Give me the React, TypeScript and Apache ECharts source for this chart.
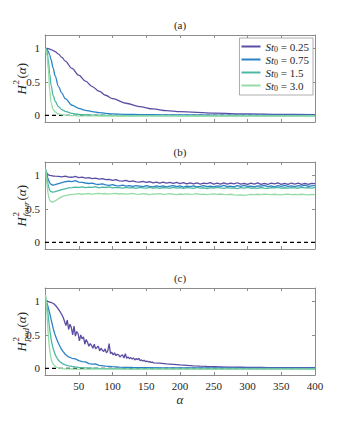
import React, { useEffect, useRef } from 'react';
import * as echarts from 'echarts';

const FONT = 'Liberation Serif';
const ST_VALUES = ['0.25', '0.75', '1.5', '3.0'];
const SERIES_NAMES = ST_VALUES.map((v) => `St0 = ${v}`);
const COLORS = ['#5a4ea3', '#2d82c6', '#4cb8a4', '#94dba6'];
const PANEL_TITLES = ['(a)', '(b)', '(c)'];
const Y_TICKS = [0, 0.5, 1];
const ZERO_LINE = [[0, 0], [400, 0]];

// ---- panel (a): H^2(alpha)
const ALPHA_A = [1, 3, 5, 7, 9, 12, 15, 20, 25, 30, 40, 50, 60, 70, 80, 90, 100, 120, 140, 160, 180, 200, 250, 300, 350, 400];
const A_025 = [1.0, 0.998, 0.995, 0.99, 0.982, 0.968, 0.952, 0.915, 0.865, 0.81, 0.7, 0.6, 0.51, 0.43, 0.36, 0.3, 0.25, 0.18, 0.13, 0.095, 0.07, 0.055, 0.032, 0.02, 0.014, 0.01];
const A_075 = [1.0, 0.985, 0.95, 0.9, 0.83, 0.71, 0.59, 0.43, 0.33, 0.25, 0.15, 0.105, 0.075, 0.055, 0.04, 0.03, 0.022, 0.014, 0.01, 0.008, 0.006, 0.005, 0.004, 0.003, 0.003, 0.002];
const A_15 = [1.0, 0.95, 0.82, 0.62, 0.45, 0.3, 0.21, 0.13, 0.085, 0.06, 0.03, 0.015, 0.008, 0.004, 0.002, 0.0, -0.002, -0.004, -0.005, -0.006, -0.006, -0.006, -0.007, -0.007, -0.007, -0.007];
const A_30 = [1.0, 0.9, 0.68, 0.37, 0.19, 0.09, 0.05, 0.02, 0.008, 0.002, -0.004, -0.007, -0.008, -0.009, -0.01, -0.01, -0.01, -0.01, -0.01, -0.01, -0.01, -0.01, -0.01, -0.01, -0.01, -0.01];

// ---- panel (b): H^2_four(alpha)
const ALPHA_B = [
  1, 2, 3, 4, 5, 6, 7, 8, 10, 12, 15,
  20, 25, 30, 35, 40, 45, 50, 55, 60, 65,
  70, 75, 80, 85, 90, 95, 100, 105, 110, 115,
  120, 125, 130, 135, 140, 145, 150, 155, 160, 165,
  170, 175, 180, 185, 190, 195, 200, 205, 210, 215,
  220, 225, 230, 235, 240, 245, 250, 255, 260, 265,
  270, 275, 280, 285, 290, 295, 300, 305, 310, 315,
  320, 325, 330, 335, 340, 345, 350, 355, 360, 365,
  370, 375, 380, 385, 390, 395, 400,
];
const B_025 = [
  1.06, 1.045, 1.03, 1.02, 1.01, 1.005, 1.0, 0.998, 0.995, 0.99, 0.988,
  0.986, 0.979, 0.988, 0.975, 0.972, 0.984, 0.968, 0.973, 0.959, 0.968,
  0.952, 0.958, 0.943, 0.953, 0.936, 0.941, 0.925, 0.936, 0.918, 0.914,
  0.924, 0.906, 0.917, 0.902, 0.898, 0.912, 0.895, 0.905, 0.889, 0.901,
  0.886, 0.898, 0.883, 0.895, 0.879, 0.894, 0.878, 0.892, 0.874, 0.889,
  0.873, 0.888, 0.871, 0.886, 0.876, 0.891, 0.87, 0.884, 0.869, 0.887,
  0.868, 0.884, 0.874, 0.89, 0.869, 0.882, 0.866, 0.885, 0.871, 0.889,
  0.867, 0.881, 0.864, 0.884, 0.872, 0.888, 0.867, 0.88, 0.865, 0.886,
  0.871, 0.883, 0.866, 0.879, 0.864, 0.882, 0.877,
];
const B_075 = [
  1.08, 1.04, 1.0, 0.965, 0.935, 0.91, 0.89, 0.875, 0.86, 0.855, 0.862,
  0.878, 0.893, 0.905, 0.915, 0.908, 0.922, 0.9, 0.894, 0.886, 0.879,
  0.885, 0.869, 0.864, 0.874, 0.857, 0.852, 0.862, 0.846, 0.842, 0.855,
  0.839, 0.848, 0.835, 0.846, 0.838, 0.83, 0.847, 0.834, 0.828, 0.842,
  0.832, 0.845, 0.829, 0.838, 0.847, 0.831, 0.842, 0.826, 0.84, 0.833,
  0.845, 0.829, 0.837, 0.848, 0.832, 0.84, 0.827, 0.843, 0.835, 0.849,
  0.833, 0.841, 0.828, 0.846, 0.836, 0.85, 0.834, 0.839, 0.827, 0.844,
  0.838, 0.851, 0.833, 0.842, 0.83, 0.846, 0.837, 0.852, 0.835, 0.843,
  0.831, 0.847, 0.838, 0.853, 0.836, 0.844, 0.848,
];
const B_15 = [
  1.09, 1.02, 0.955, 0.895, 0.845, 0.805, 0.78, 0.765, 0.752, 0.749, 0.756,
  0.772, 0.788, 0.8, 0.812, 0.818, 0.825, 0.821, 0.829, 0.818, 0.826,
  0.82, 0.832, 0.815, 0.824, 0.819, 0.828, 0.813, 0.822, 0.817, 0.809,
  0.821, 0.812, 0.818, 0.807, 0.822, 0.814, 0.809, 0.82, 0.811, 0.817,
  0.806, 0.819, 0.812, 0.808, 0.821, 0.81, 0.816, 0.805, 0.818, 0.813,
  0.807, 0.82, 0.811, 0.815, 0.804, 0.817, 0.809, 0.821, 0.812, 0.806,
  0.818, 0.81, 0.815, 0.803, 0.816, 0.811, 0.82, 0.808, 0.814, 0.806,
  0.819, 0.811, 0.807, 0.817, 0.812, 0.821, 0.809, 0.815, 0.81, 0.818,
  0.813, 0.808, 0.82, 0.812, 0.816, 0.81, 0.818,
];
const B_30 = [
  1.1, 0.98, 0.865, 0.77, 0.7, 0.66, 0.632, 0.616, 0.604, 0.602, 0.618,
  0.652, 0.683, 0.699, 0.708, 0.716, 0.72, 0.726, 0.718, 0.724, 0.729,
  0.721, 0.727, 0.732, 0.724, 0.729, 0.72, 0.726, 0.731, 0.722, 0.728,
  0.719, 0.725, 0.73, 0.721, 0.717, 0.726, 0.722, 0.714, 0.723, 0.719,
  0.726, 0.716, 0.721, 0.727, 0.718, 0.713, 0.722, 0.717, 0.724, 0.715,
  0.72, 0.726, 0.716, 0.721, 0.714, 0.719, 0.725, 0.717, 0.722, 0.715,
  0.712, 0.718, 0.709, 0.704, 0.71, 0.702, 0.708, 0.715, 0.711, 0.718,
  0.713, 0.72, 0.716, 0.711, 0.718, 0.714, 0.709, 0.716, 0.72, 0.713,
  0.717, 0.711, 0.718, 0.714, 0.709, 0.716, 0.713,
];

// ---- panel (c): H^2_pod(alpha)
const ALPHA_C_025 = [
  1, 4, 7, 10, 13, 16, 19, 22, 25,
  27, 29, 31, 33, 35, 37, 39, 41, 43, 45,
  47, 49, 51, 53, 55, 57, 59, 61, 63, 65,
  67, 69, 71, 73, 75, 77, 79, 81, 83, 85,
  87, 89, 91, 93, 95, 97, 99, 101, 103, 105,
  107, 109, 111, 113, 115, 117, 119, 121, 123, 125,
  127, 129, 131, 133, 135, 137, 139, 141, 143, 145,
  147, 149, 151, 153, 155, 157, 159, 161,
  170, 180, 190, 200, 210, 220, 230, 240, 250, 260,
  270, 280, 290, 300, 310, 320, 330, 340, 350, 360,
  370, 380, 390, 400,
];
const C_025 = [
  1.02, 1.0, 0.99, 0.98, 0.965, 0.935, 0.895, 0.85, 0.8,
  0.76, 0.7, 0.64, 0.72, 0.58, 0.66, 0.61, 0.5, 0.63, 0.48,
  0.55, 0.52, 0.41, 0.5, 0.44, 0.47, 0.36, 0.43, 0.39, 0.33,
  0.37, 0.34, 0.3, 0.36, 0.29, 0.31, 0.33, 0.26, 0.3, 0.27,
  0.25, 0.29, 0.23, 0.26, 0.37, 0.22, 0.24, 0.2, 0.23, 0.19,
  0.21, 0.2, 0.17, 0.19, 0.2, 0.155, 0.22, 0.15, 0.17, 0.145,
  0.16, 0.14, 0.155, 0.125, 0.145, 0.13, 0.15, 0.115, 0.125, 0.11,
  0.12, 0.1, 0.108, 0.095, 0.1, 0.088, 0.094, 0.082,
  0.078, 0.066, 0.06, 0.05, 0.044, 0.037, 0.032, 0.028, 0.025, 0.022,
  0.019, 0.017, 0.016, 0.014, 0.013, 0.012, 0.011, 0.011, 0.01, 0.01,
  0.009, 0.009, 0.008, 0.008,
];
const ALPHA_C = [
  1, 2, 3, 4, 5, 6, 7, 8, 9, 10,
  12, 14, 16, 18, 20, 23, 26, 30, 35, 40,
  45, 50, 55, 60, 65, 70, 75, 80, 90, 100,
  110, 120, 130, 140, 150, 175, 200, 250, 300, 350,
  400,
];
const C_075 = [
  1.02, 1.0, 0.97, 0.94, 0.9, 0.86, 0.82, 0.78, 0.73, 0.69,
  0.6, 0.53, 0.47, 0.42, 0.37, 0.31, 0.26, 0.21, 0.17, 0.15,
  0.14, 0.115, 0.1, 0.095, 0.07, 0.062, 0.065, 0.045, 0.032, 0.024,
  0.018, 0.015, 0.012, 0.01, 0.009, 0.007, 0.006, 0.005, 0.004, 0.004,
  0.003,
];
const C_15 = [
  1.06, 1.0, 0.93, 0.85, 0.76, 0.67, 0.58, 0.51, 0.44, 0.385,
  0.3, 0.235, 0.185, 0.15, 0.12, 0.09, 0.07, 0.052, 0.037, 0.028,
  0.02, 0.014, 0.01, 0.007, 0.004, 0.002, 0.0, -0.002, -0.004, -0.005,
  -0.006, -0.007, -0.007, -0.008, -0.008, -0.009, -0.009, -0.01, -0.01, -0.01,
  -0.01,
];
const C_30 = [
  1.1, 0.96, 0.8, 0.63, 0.48, 0.36, 0.27, 0.2, 0.15, 0.11,
  0.065, 0.04, 0.024, 0.013, 0.006, 0.0, -0.004, -0.007, -0.009, -0.01,
  -0.011, -0.012, -0.012, -0.012, -0.013, -0.013, -0.013, -0.013, -0.013, -0.013,
  -0.013, -0.013, -0.013, -0.013, -0.013, -0.013, -0.013, -0.013, -0.013, -0.013,
  -0.013,
];

const PANELS = [
  { xs: [ALPHA_A, ALPHA_A, ALPHA_A, ALPHA_A], ys: [A_025, A_075, A_15, A_30], smooth: true, sub: '' },
  { xs: [ALPHA_B, ALPHA_B, ALPHA_B, ALPHA_B], ys: [B_025, B_075, B_15, B_30], smooth: false, sub: 'four' },
  { xs: [ALPHA_C_025, ALPHA_C, ALPHA_C, ALPHA_C], ys: [C_025, C_075, C_15, C_30], smooth: false, sub: 'pod' },
];

const GRID_TOPS = [35, 162, 288];
const GRID_H = 87;
const GRID_LEFT = 45;
const GRID_RIGHT = 34;
const AXIS_COLOR = '#8c8c8c';
const TEXT_COLOR = '#262626';

function yLabel(cy: number, sub: string) {
  const hW = 10;
  const subW = sub === 'four' ? 15 : sub === 'pod' ? 13 : 5;
  const midW = subW + 1;
  const total = hW + midW + 16;
  const x0 = -total / 2;
  const base = { fontFamily: FONT, fill: TEXT_COLOR, textAlign: 'left', align: 'left', textVerticalAlign: 'middle', verticalAlign: 'middle' };
  const children: any[] = [
    { type: 'text', x: x0, y: 0, style: { ...base, text: 'H', fontSize: 13, fontStyle: 'italic' } },
    { type: 'text', x: x0 + hW, y: -5, style: { ...base, text: '2', fontSize: 9 } },
    {
      type: 'text', x: x0 + hW + midW, y: 0,
      style: { ...base, text: '({a|α})', fontSize: 13, rich: { a: { fontFamily: FONT, fontSize: 13, fontStyle: 'italic', fill: TEXT_COLOR } } },
    },
  ];
  if (sub) {
    children.push({ type: 'text', x: x0 + hW, y: 5, style: { ...base, text: sub, fontSize: 9, fontStyle: 'italic' } });
  }
  return { type: 'group', x: 21, y: cy, rotation: Math.PI / 2, children };
}

export default function App() {
  const ref = useRef<HTMLDivElement>(null);
  useEffect(() => {
    document.body.style.margin = '0';
    if (!ref.current) return;
    const chart = echarts.init(ref.current, undefined, { renderer: 'svg' });

    const grid = GRID_TOPS.map((top) => ({ left: GRID_LEFT, right: GRID_RIGHT, top, height: GRID_H, containLabel: false, outerBoundsMode: 'none' }));
    const xAxis: any[] = [];
    const yAxis: any[] = [];
    GRID_TOPS.forEach((_, i) => {
      const commonX = {
        gridIndex: i, type: 'value', min: 0, max: 400, interval: 50,
        axisLine: { show: true, onZero: false, lineStyle: { color: AXIS_COLOR, width: 1 } },
        axisTick: { show: true, inside: true, length: 3, lineStyle: { color: AXIS_COLOR } },
        splitLine: { show: false },
      };
      xAxis.push({ ...commonX, position: 'bottom', axisLabel: { show: i === 2, showMinLabel: false, color: TEXT_COLOR, fontFamily: FONT, fontSize: 11, margin: 5 } });
      xAxis.push({ ...commonX, position: 'top', axisLabel: { show: false } });
      const commonY = {
        gridIndex: i, type: 'value', min: -0.1, max: 1.2,
        axisLine: { show: true, onZero: false, lineStyle: { color: AXIS_COLOR, width: 1 } },
        axisTick: { show: true, inside: true, length: 3, customValues: Y_TICKS, lineStyle: { color: AXIS_COLOR } },
        splitLine: { show: false },
      };
      yAxis.push({ ...commonY, position: 'left', axisLabel: { customValues: Y_TICKS, color: TEXT_COLOR, fontFamily: FONT, fontSize: 11, margin: 5 } });
      yAxis.push({ ...commonY, position: 'right', axisLabel: { show: false } });
    });

    const series: any[] = [];
    PANELS.forEach((p, i) => {
      series.push({
        type: 'line', name: 'zero', data: ZERO_LINE, xAxisIndex: 2 * i, yAxisIndex: 2 * i,
        symbol: 'none', silent: true, z: 1,
        lineStyle: { color: '#000', width: 1.2, type: [4, 3] },
      });
      p.ys.forEach((vals, k) => {
        series.push({
          type: 'line', name: SERIES_NAMES[k], xAxisIndex: 2 * i, yAxisIndex: 2 * i,
          data: p.xs[k].map((a, j) => [a, vals[j]]),
          symbol: 'none', smooth: p.smooth ? 0.35 : false, smoothMonotone: 'x', z: 2 + k,
          color: COLORS[k],
          lineStyle: { color: COLORS[k], width: 1.3 },
        });
      });
    });

    const graphic: any[] = [];
    PANEL_TITLES.forEach((t, i) => {
      graphic.push({
        type: 'text', x: GRID_LEFT + (349 - GRID_LEFT - GRID_RIGHT) / 2, y: GRID_TOPS[i] - 10,
        style: { text: t, fontFamily: FONT, fontSize: 11, fill: TEXT_COLOR, textAlign: 'center', align: 'center', textVerticalAlign: 'middle', verticalAlign: 'middle' },
      });
      graphic.push(yLabel(GRID_TOPS[i] + GRID_H / 2, PANELS[i].sub));
    });
    graphic.push({
      type: 'text', x: 180, y: 399,
      style: { text: 'α', fontFamily: FONT, fontSize: 13, fontStyle: 'italic', fill: TEXT_COLOR, textAlign: 'center', align: 'center', textVerticalAlign: 'middle', verticalAlign: 'middle' },
    });

    chart.setOption({
      animation: false,
      backgroundColor: '#fff',
      textStyle: { fontFamily: FONT },
      grid, xAxis, yAxis, series, graphic,
      legend: {
        data: SERIES_NAMES,
        orient: 'vertical', right: 36, top: 38,
        icon: 'rect', itemWidth: 19, itemHeight: 2, itemGap: 1,
        padding: [3, 4, 3, 2],
        borderColor: '#999', borderWidth: 0.8, backgroundColor: '#fff',
        selectedMode: false,
        formatter: (name: string) => `{i|St}{s|0}{n| = ${name.split(' = ')[1]}}`,
        textStyle: {
          fontFamily: FONT, fontSize: 11, color: TEXT_COLOR,
          rich: {
            i: { fontFamily: FONT, fontSize: 11, fontStyle: 'italic', color: TEXT_COLOR, lineHeight: 13, verticalAlign: 'middle' },
            s: { fontFamily: FONT, fontSize: 8, color: TEXT_COLOR, lineHeight: 8, verticalAlign: 'bottom' },
            n: { fontFamily: FONT, fontSize: 11, color: TEXT_COLOR, lineHeight: 13, verticalAlign: 'middle' },
          },
        },
      },
    });
    return () => chart.dispose();
  }, []);
  return <div ref={ref} style={{ width: 349, height: 422 }} />;
}
